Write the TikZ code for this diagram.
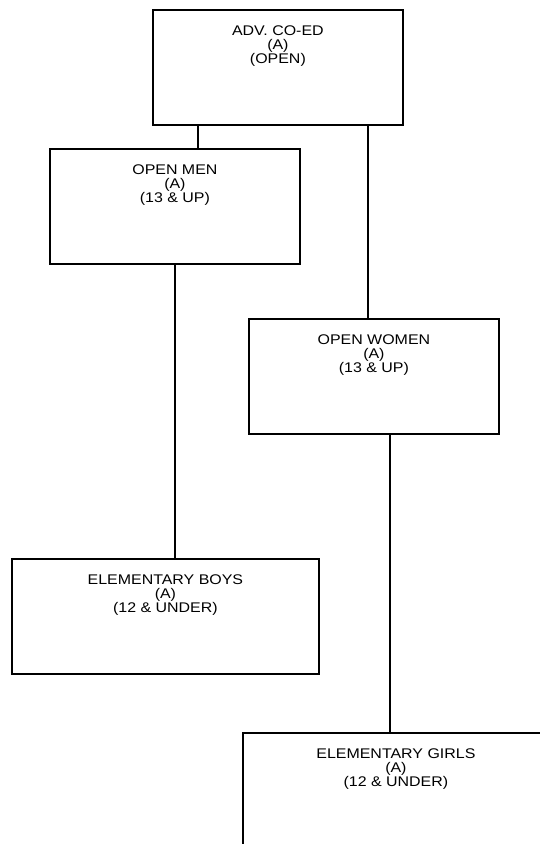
\documentclass[tikz,border=0pt]{standalone}
\usepackage{fontspec}
\setmainfont{Liberation Sans}[FakeStretch=1.14]
\usepackage{tikz}
\newcommand{\grp}[2]{\parbox[b][115pt][t]{#1}{\centering\vspace*{16pt}#2}}

\begin{document}
\begin{tikzpicture}[x=1pt,y=-1pt,
    box/.style={draw,line width=1.8pt,inner sep=0pt,anchor=north west,
      font=\fontsize{14pt}{14pt}\selectfont},
    link/.style={draw,line width=1.8pt}]
  \useasboundingbox (0,0) rectangle (540,844);
  \node[box] (adv)   at (152,9)   {\grp{250pt}{ADV. CO-ED\\(A)\\(OPEN)}};
  \node[box] (men)   at (49,148)  {\grp{250pt}{OPEN MEN\\(A)\\(13 \& UP)}};
  \node[box] (women) at (248,318) {\grp{250pt}{OPEN WOMEN\\(A)\\(13 \& UP)}};
  \node[box] (boys)  at (11,558)  {\grp{307pt}{ELEMENTARY BOYS\\(A)\\(12 \& UNDER)}};
  \node[box] (girls) at (242,732) {\grp{306pt}{ELEMENTARY GIRLS\\(A)\\(12 \& UNDER)}};
  \path[link]
    (adv.south -| 198,0)   edge (men.north -| 198,0)
    (adv.south -| 368,0)   edge (women.north -| 368,0)
    (men.south)            edge (boys.north -| men.south)
    (women.south -| 390,0) edge (girls.north -| 390,0);
\end{tikzpicture}
\end{document}
